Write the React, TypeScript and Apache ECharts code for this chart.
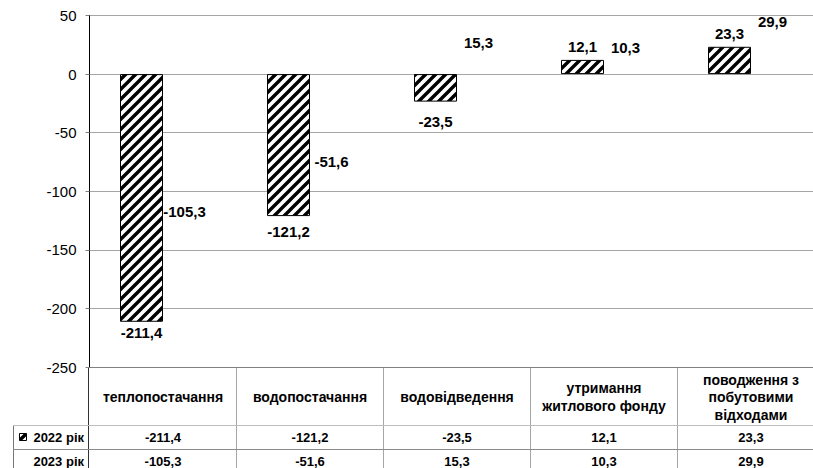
import React, { useEffect, useRef } from "react";
import * as echarts from "echarts";

const categories = [
  "теплопостачання",
  "водопостачання",
  "водовідведення",
  "утримання\nжитлового фонду",
  "поводження з\nпобутовими\nвідходами",
];
const seriesNames = ["2022 рік", "2023 рік"];
const values2022 = [-211.4, -121.2, -23.5, 12.1, 23.3];
const values2023 = [-105.3, -51.6, 15.3, 10.3, 29.9];
const yMin = -250;
const yMax = 50;
const yStep = 50;

// label offsets (style only)
const dist2022 = [3, 8, 12, 6, 6];
const dist2023 = [7, 19, 6, 7, 10];

const FONT = '"Liberation Sans", Arial, sans-serif';
const W = 813;
const H = 468;
const GRID_LEFT = 89.5;
const GRID_TOP = 15.5;
const CAT_W = 147;
const GRID_W = CAT_W * categories.length;
const CHART_W = Math.ceil(GRID_LEFT + GRID_W + 6);
const GRID_H = 351.5;
const TABLE_TOP = GRID_TOP + GRID_H;
const ROW1_TOP = 425;
const ROW_H = 24;

const hatchSvg =
  "<svg xmlns='http://www.w3.org/2000/svg' width='10' height='10'>" +
  "<rect width='10' height='10' fill='white'/>" +
  "<path d='M-2,2 L2,-2 M0,10 L10,0 M8,12 L12,8' stroke='black' stroke-width='3.4'/>" +
  "</svg>";
const hatchUrl = "data:image/svg+xml;charset=utf-8," + encodeURIComponent(hatchSvg);
const hatch: any = { image: hatchUrl, repeat: "repeat", imageWidth: 10, imageHeight: 10 };

const fmt = (v: number) => v.toFixed(1).replace(".", ",");

export default function App() {
  const ref = useRef<HTMLDivElement>(null);
  useEffect(() => {
    document.body.style.margin = "0";
    const chart = echarts.init(ref.current!, null, { renderer: "svg" });

    const graphic: any[] = [];
    const textStyle = (text: string, x: number, y: number, align = "center", size = 13) => ({
      type: "text",
      x,
      y,
      silent: true,
      style: {
        text,
        fill: "#000",
        fontSize: size,
        fontWeight: "bold",
        fontFamily: FONT,
        align,
        verticalAlign: "middle",
        lineHeight: 17.5,
      },
    });
    const line = (x1: number, y1: number, x2: number, y2: number, color: string) => ({
      type: "line",
      silent: true,
      shape: { x1, y1, x2, y2 },
      style: { stroke: color, lineWidth: 1 },
    });

    // table lines
    for (let i = 1; i <= categories.length; i++) {
      const x = Math.round(GRID_LEFT + i * CAT_W) - 0.5;
      graphic.push(line(x, TABLE_TOP, x, H, "#a6a6a6"));
    }
    graphic.push(line(88.5, TABLE_TOP, 88.5, H, "#333"));
    graphic.push(line(13.5, ROW1_TOP, 13.5, H, "#777"));
    graphic.push(line(13, ROW1_TOP + 0.5, CHART_W, ROW1_TOP + 0.5, "#bdbdbd"));
    graphic.push(line(13, ROW1_TOP + ROW_H + 0.5, CHART_W, ROW1_TOP + ROW_H + 0.5, "#8a8a8a"));

    categories.forEach((c, i) => {
      const cx = GRID_LEFT + (i + 0.5) * CAT_W;
      graphic.push(textStyle(c, cx, (TABLE_TOP + ROW1_TOP) / 2 + 1, "center", 14));
      graphic.push(textStyle(fmt(values2022[i]), cx, ROW1_TOP + ROW_H / 2));
      graphic.push(textStyle(fmt(values2023[i]), cx, ROW1_TOP + ROW_H + ROW_H / 2));
    });
    graphic.push(textStyle(seriesNames[0], 84, ROW1_TOP + ROW_H / 2, "right"));
    graphic.push(textStyle(seriesNames[1], 84, ROW1_TOP + ROW_H + ROW_H / 2, "right"));
    graphic.push({
      type: "rect",
      silent: true,
      shape: { x: 19.5, y: ROW1_TOP + 8.5, width: 7, height: 7 },
      style: { fill: hatch, stroke: "#000", lineWidth: 1 },
    });

    const labelBase = {
      show: true,
      color: "#000",
      fontSize: 15,
      fontWeight: "bold",
      fontFamily: FONT,
      formatter: (p: any) => fmt(p.value),
    };

    chart.setOption({
      animation: false,
      textStyle: { fontFamily: FONT },
      grid: { left: GRID_LEFT, top: GRID_TOP, width: GRID_W, height: GRID_H },
      xAxis: {
        type: "category",
        data: categories,
        axisLine: { onZero: false, lineStyle: { color: "#808080", width: 1 } },
        axisTick: { show: false },
        axisLabel: { show: false },
        splitLine: { show: false },
      },
      yAxis: {
        type: "value",
        min: yMin,
        max: yMax,
        interval: yStep,
        axisLine: { show: true, lineStyle: { color: "#000", width: 1 } },
        axisTick: { show: true, length: 4, lineStyle: { color: "#808080" } },
        axisLabel: { color: "#000", fontSize: 15, fontFamily: FONT, margin: 13 },
        splitLine: { lineStyle: { color: "#a6a6a6", width: 1 } },
      },
      series: [
        {
          name: seriesNames[0],
          type: "bar",
          barWidth: 43,
          barGap: "0%",
          itemStyle: { color: hatch, borderColor: "#000", borderWidth: 1 },
          data: values2022.map((v, i) => ({
            value: v,
            label: { ...labelBase, position: v < 0 ? "bottom" : "top", distance: dist2022[i] },
          })),
        },
        {
          name: seriesNames[1],
          type: "bar",
          barWidth: 43,
          barGap: "0%",
          itemStyle: { color: "rgba(0,0,0,0)", borderWidth: 0 },
          data: values2023.map((v, i) => ({
            value: v,
            label: { ...labelBase, position: v < 0 ? "bottom" : "top", distance: dist2023[i] },
          })),
        },
      ],
      graphic,
    });
    return () => chart.dispose();
  }, []);
  return (
    <div style={{ width: W, height: H, overflow: "hidden", position: "relative" }}>
      <div ref={ref} style={{ width: CHART_W, height: H }} />
    </div>
  );
}
